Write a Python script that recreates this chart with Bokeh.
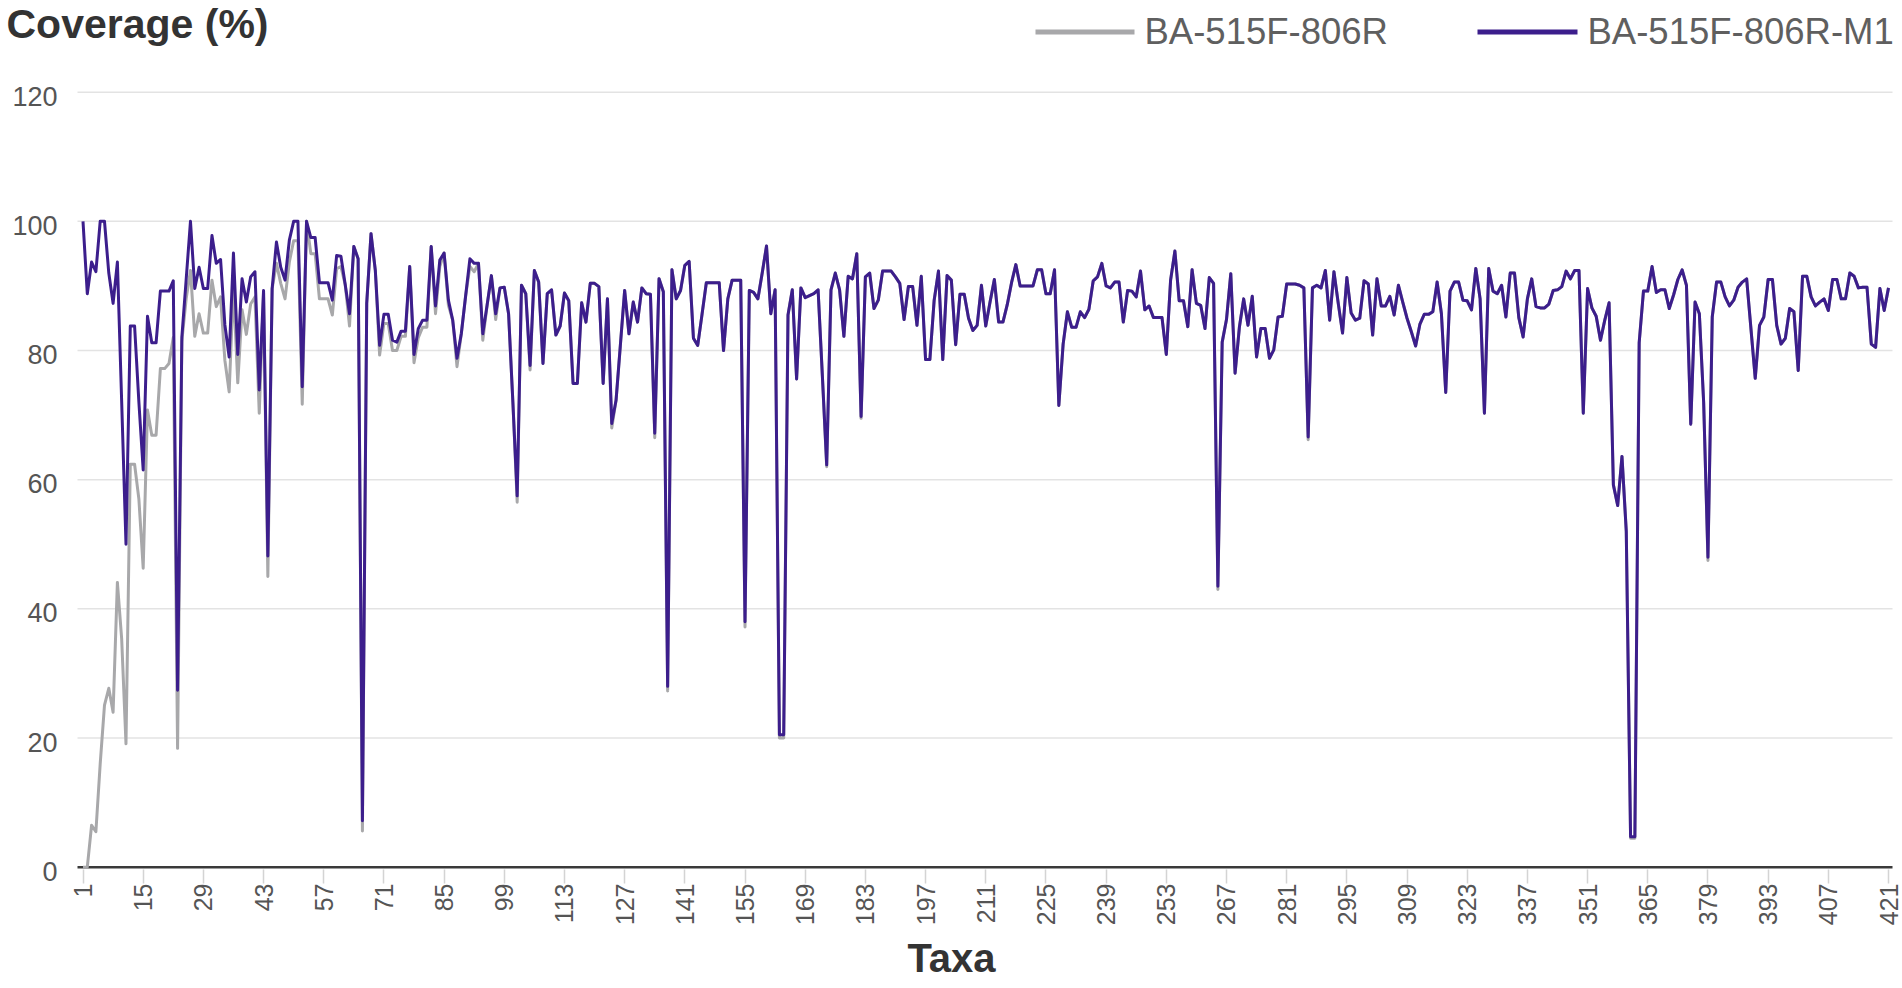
import math
from bokeh.plotting import figure
from bokeh.models import Range1d, FixedTicker
from bokeh.core.properties import value
from bokeh.embed import file_html
from bokeh.resources import INLINE

# ---------------- data ----------------
series_names = ["BA-515F-806R", "BA-515F-806R-M1"]
x_tick_values = list(range(1, 422, 14))
y_tick_values = [0, 20, 40, 60, 80, 100, 120]

# Coverage (%) of BA-515F-806R-M1, taxa 1..421
coverage_m1 = [
    100, 88.8, 93.7, 92.2, 100, 100, 92, 87.3, 93.7, 72,
    50, 83.8, 83.8, 72, 61.5, 85.3, 81.2, 81.2, 89.2, 89.2,
    89.2, 90.8, 27.4, 82.1, 91, 100, 89.6, 92.9, 89.6, 89.6,
    97.8, 93.5, 94.1, 84, 79, 95.1, 79.4, 91.1, 87.5, 91.4,
    92.2, 73.9, 89.3, 48.2, 89.6, 96.8, 92.9, 90.9, 97.1, 100,
    100, 74.4, 100, 97.5, 97.5, 90.5, 90.5, 90.5, 87.8, 94.7,
    94.6, 90.2, 85.7, 96.1, 94.2, 7.2, 87.3, 98.1, 92.4, 80.8,
    85.6, 85.6, 81.6, 81.3, 83, 83, 93, 79.4, 83.4, 84.7,
    84.7, 96.1, 86.9, 94, 95.1, 87.8, 84.7, 78.8, 82.6, 88.4,
    94.2, 93.5, 93.5, 82.6, 87, 91.6, 85.7, 89.7, 89.8, 85.7,
    72, 57.5, 90.1, 88.8, 77.7, 92.4, 90.6, 78, 88.8, 89.4,
    82.4, 83.8, 88.9, 87.7, 74.9, 74.9, 87.4, 84.4, 90.4, 90.4,
    89.9, 74.9, 88, 68.7, 72.3, 80.8, 89.3, 82.6, 87.5, 84.4,
    89.7, 88.8, 88.7, 67.2, 91.1, 89.1, 28, 92.5, 88, 89.3,
    93.2, 93.8, 81.9, 80.8, 85.6, 90.5, 90.5, 90.5, 90.5, 80,
    88, 90.9, 90.9, 90.9, 38, 89.3, 89, 88, 92, 96.2,
    85.7, 89.4, 20.5, 20.5, 85.5, 89.4, 75.6, 89.7, 88.2, 88.5,
    88.8, 89.4, 76, 62.3, 89.4, 92, 89.4, 82.2, 91.5, 91.1,
    95, 69.8, 91.4, 92, 86.5, 87.8, 92.3, 92.3, 92.3, 91.4,
    90.4, 84.8, 89.9, 89.9, 83.9, 91.5, 78.6, 78.6, 87.8, 92.3,
    78.6, 91.6, 90.9, 80.9, 88.7, 88.7, 85, 83.1, 83.9, 90.1,
    83.8, 87.5, 91, 84.4, 84.4, 87.1, 90.5, 93.3, 90, 90,
    90, 90, 92.5, 92.5, 88.8, 88.8, 92.5, 71.5, 81, 86,
    83.6, 83.6, 86, 85.1, 86.4, 90.8, 91.4, 93.5, 90, 89.7,
    90.6, 90.6, 84.4, 89.3, 89.2, 88.3, 92.3, 86.3, 86.9, 85.1,
    85.1, 85.1, 79.4, 90.9, 95.4, 87.7, 87.7, 83.7, 92.5, 87.3,
    87, 83.4, 91.3, 90.4, 43.5, 81.3, 84.8, 91.9, 76.5, 83.6,
    88, 83.9, 88.4, 79, 83.4, 83.4, 78.8, 80.1, 85.2, 85.3,
    90.3, 90.3, 90.3, 90.1, 89.7, 66.6, 89.7, 90.1, 89.7, 92.4,
    84.7, 92.2, 87.3, 82.7, 91.3, 85.8, 84.7, 85, 90.8, 90.3,
    82.4, 91.1, 86.9, 86.9, 88.4, 85.5, 90.1, 87.5, 85, 82.9,
    80.7, 84.1, 85.6, 85.6, 86, 90.6, 85.7, 73.5, 89.2, 90.6,
    90.6, 87.8, 87.7, 86.3, 92.7, 88, 70.3, 92.7, 89.2, 88.8,
    90.1, 85.2, 92, 92, 85.1, 82.1, 88, 91.1, 86.8, 86.6,
    86.6, 87.2, 89.3, 89.4, 89.9, 92.3, 91.1, 92.4, 92.4, 70.3,
    89.6, 86.6, 85.3, 81.6, 84.7, 87.4, 59.2, 56, 63.6, 52,
    4.7, 4.7, 81.2, 89.2, 89.2, 93, 89, 89.4, 89.4, 86.5,
    88.6, 91, 92.5, 90.1, 68.6, 87.5, 85.7, 72, 48, 85.2,
    90.6, 90.6, 88.3, 86.9, 87.8, 89.8, 90.6, 91.1, 83.4, 75.7,
    83.9, 85.2, 91, 91, 83.9, 81, 81.9, 86.5, 86, 76.9,
    91.5, 91.5, 88.3, 86.9, 87.5, 88, 86.2, 91, 91, 88,
    88, 92, 91.5, 89.7, 89.8, 89.8, 81, 80.5, 89.6, 86.2,
    89.7,
]

# Coverage (%) of BA-515F-806R, taxa 1..58 (where it clearly differs)
coverage_base_head = [
    0, 0, 6.5, 5.5, 16, 25.1, 27.7, 24, 44.1, 35.3,
    19.1, 62.4, 62.4, 57, 46.3, 70.8, 66.9, 66.9, 77.2, 77.2,
    78, 82, 18.4, 81.5, 88, 92.4, 82.2, 85.7, 82.7, 82.7,
    90.9, 86.8, 88.3, 78.5, 73.6, 90, 75, 86.3, 82.5, 87.2,
    88.3, 70.3, 89, 45, 89.6, 93.5, 90.4, 88, 93.7, 97,
    97, 71.7, 100, 95, 95, 88, 88, 88,
]
# later taxa where BA-515F-806R sits visibly below M1 (otherwise equal)
coverage_base_diff = {
    59: 85.5, 60: 92.7, 61: 93, 63: 83.8, 66: 5.6, 70: 79.3, 71: 84.2, 72: 84.2,
    73: 80, 74: 80, 75: 82.2, 76: 82.2, 78: 78.1, 79: 82, 80: 83.6, 81: 83.6,
    83: 85.7, 84: 93, 86: 87, 88: 77.5, 91: 93, 92: 92.2, 94: 81.6, 97: 84.8,
    102: 56.5, 105: 77, 124: 68, 134: 66.5, 137: 27.3, 155: 37.2, 163: 20,
    164: 20, 174: 62, 182: 69.5, 265: 43, 286: 66.2, 361: 4.5, 362: 4.5, 379: 47.5,
}

taxa = list(range(1, len(coverage_m1) + 1))
coverage_base = [
    coverage_base_head[i] if i < len(coverage_base_head)
    else coverage_base_diff.get(i + 1, coverage_m1[i])
    for i in range(len(coverage_m1))
]

# ---------------- layout / styling ----------------
GRAY = "#a8a8aa"
PURPLE = "#3c1e8c"
FONT = "Liberation Sans"
W, H = 1902, 986
BOTTOM = 103                      # x-axis panel (tick labels + "Taxa")
FRAME_H = H - BOTTOM              # frame covers the canvas above it
X_FIRST, X_LAST = 82.5, 1888.0    # canvas x of taxon 1 and taxon 421
Y_ZERO, Y_TOP = 866.7, 91.7       # canvas y of 0 % and 120 %
px_per_taxon = (X_LAST - X_FIRST) / (len(coverage_m1) - 1)
px_per_unit = (Y_ZERO - Y_TOP) / 120.0

x_start = 1 - X_FIRST / px_per_taxon
x_end = 1 + (W - X_FIRST) / px_per_taxon
y_start = -(FRAME_H - Y_ZERO) / px_per_unit
y_end = Y_ZERO / px_per_unit


def taxon_at(px):
    return 1 + (px - X_FIRST) / px_per_taxon


p = figure(width=W, height=H, output_backend="svg", toolbar_location=None,
           x_range=Range1d(x_start, x_end), y_range=Range1d(y_start, y_end),
           y_axis_type=None,
           min_border_left=0, min_border_right=0, min_border_top=0,
           min_border_bottom=BOTTOM)
# canvas-pixel coordinate system for decorations (title, legend)
p.extra_x_ranges = {"px": Range1d(0, W)}
p.extra_y_ranges = {"px": Range1d(FRAME_H, 0)}
p.outline_line_color = None
p.background_fill_color = "white"
p.border_fill_color = "white"
p.grid.grid_line_color = None

grid_x0, grid_x1 = taxon_at(77), taxon_at(1892)

# x axis: tick marks and rotated tick labels, axis title
p.xaxis.ticker = FixedTicker(ticks=x_tick_values)
p.xaxis.axis_line_color = None
p.xaxis.major_tick_in = 14
p.xaxis.major_tick_out = 0
p.xaxis.major_tick_line_color = "#d4d4d4"
p.xaxis.major_tick_line_width = 1.5
p.xaxis.minor_tick_line_color = None
p.xaxis.major_label_orientation = math.pi / 2
p.xaxis.major_label_text_font = FONT
p.xaxis.major_label_text_font_size = "25px"
p.xaxis.major_label_text_color = "#555555"
p.xaxis.major_label_standoff = 0
p.xaxis.axis_label = "Taxa"
p.xaxis.axis_label_text_font = FONT
p.xaxis.axis_label_text_font_size = "40px"
p.xaxis.axis_label_text_font_style = "bold"
p.xaxis.axis_label_text_color = "#333333"
p.xaxis.axis_label_standoff = 8

# y scale: horizontal grid lines, base line and tick labels at the tick values
grid_vals = [v for v in y_tick_values if v > 0]
p.segment(x0=[grid_x0] * len(grid_vals), x1=[grid_x1] * len(grid_vals),
          y0=grid_vals, y1=grid_vals, line_color="#e3e3e3", line_width=1.5)
p.segment(x0=[grid_x0], x1=[grid_x1], y0=[0], y1=[0],
          line_color="#3a3a3a", line_width=2.5)
p.text(x=[taxon_at(57)] * len(y_tick_values), y=y_tick_values,
       text=[str(v) for v in y_tick_values], text_font=value(FONT),
       text_font_size="27px", text_color="#555555", text_align="right",
       text_baseline="middle", y_offset=4)

# series
p.line(taxa, coverage_base, line_color=GRAY, line_width=3, line_join="round")
p.line(taxa, coverage_m1, line_color=PURPLE, line_width=3, line_join="round")

# y-axis title and legend (canvas pixel positions)
p.text(x=[6], y=[23], text=["Coverage (%)"], text_font=value(FONT),
       text_font_size="41px", text_font_style="bold", text_color="#333333",
       text_baseline="alphabetic", text_align="left",
       x_range_name="px", y_range_name="px")
p.line([1035, 1134], [31.5, 31.5], line_color=GRAY, line_width=5,
       x_range_name="px", y_range_name="px")
p.line([1477, 1577], [31.5, 31.5], line_color=PURPLE, line_width=5,
       x_range_name="px", y_range_name="px")
p.text(x=[1144, 1587], y=[30.5, 30.5], text=series_names, text_font=value(FONT),
       text_font_size="36.5px", text_color="#5f5f5f",
       text_baseline="alphabetic", text_align="left",
       x_range_name="px", y_range_name="px")

open("out.html", "w").write(file_html(p, INLINE))
